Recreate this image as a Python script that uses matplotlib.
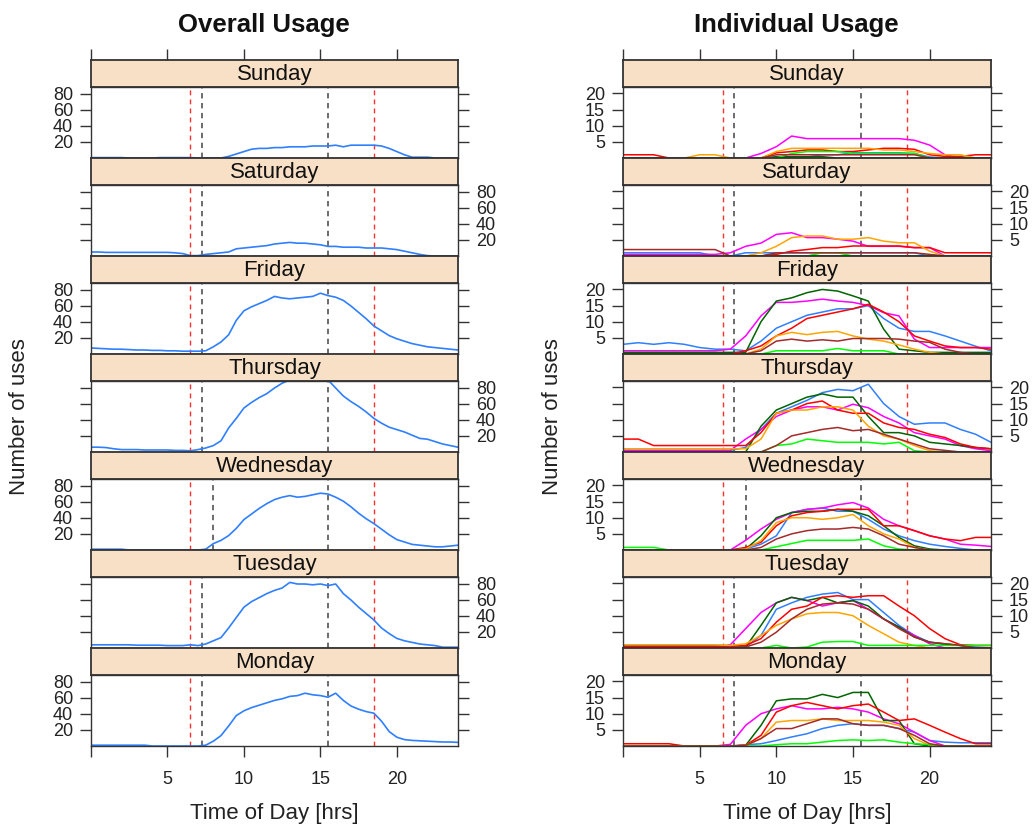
import matplotlib.pyplot as plt

plt.rcParams['font.family'] = ['Liberation Sans', 'DejaVu Sans']

# --- dane ---
days = ["Sunday", "Saturday", "Friday", "Thursday", "Wednesday", "Tuesday", "Monday"]
half_hours = [h / 2 for h in range(49)]
hours = list(range(25))

# overall usage, co pol godziny (0 .. 24)
overall_sunday = [0.5, 0.5, 0.5, 0.5, 0.5, 0, 0, 0, 0, 0.5, 0.5, 0.5, 0.5, 0.5, 0, 0, 0, 0,
                  2, 5, 8, 11, 12, 12, 13, 13, 14, 14, 14, 15, 15, 15, 16, 14, 16, 16, 16, 16,
                  15, 12, 8, 4, 1, 1, 1, 0, 0, 0, 0]
overall_saturday = [5, 5, 4.5, 4.5, 4.5, 4.5, 4.5, 4.5, 4.5, 4.5, 4.5, 4, 3, 0.5, 0.5, 2, 3, 4,
                    5, 9, 10, 11, 12, 13, 15, 16, 17, 16, 16, 15, 14, 12, 12, 11, 11, 11, 10, 10,
                    10, 9, 8, 6, 4, 2, 0.5, 0, 0, 0, 0]
overall_friday = [7.5, 7, 6.5, 6, 6, 5.5, 5, 5, 4.5, 4.5, 4, 4, 3.5, 3.5, 3.5, 4, 9, 15,
                  24, 42, 54, 59, 63, 67, 72, 70, 69, 70, 71, 72, 76, 73, 71, 67, 60, 52, 44, 35,
                  29, 23, 19, 16, 13, 11, 9, 8, 7, 6, 5]
overall_thursday = [6, 6, 5.5, 4, 3, 3, 3, 2.5, 2.5, 2.5, 2.5, 2, 2, 1.5, 3, 5, 8, 14,
                    30, 42, 55, 62, 68, 73, 80, 86, 90, 91, 90, 90, 89, 90, 80, 70, 63, 57, 50, 42,
                    36, 31, 28, 25, 21, 17, 16, 13, 10, 8, 6]
overall_wednesday = [1, 1, 1, 1, 1, 0, 0, 0, 0, 0, 0, 0, 0, 0, 0, 1, 8, 12,
                     18, 27, 38, 45, 52, 58, 63, 66, 68, 66, 67, 69, 71, 70, 66, 61, 54, 46, 39, 33,
                     26, 19, 13, 10, 7, 6, 5, 4, 4, 5, 6]
overall_tuesday = [4, 4, 4, 4, 4, 4, 3.5, 3.5, 3.5, 3.5, 3, 3, 3, 4, 3, 5, 9, 13,
                   25, 38, 51, 58, 63, 68, 72, 75, 82, 80, 80, 79, 80, 78, 80, 68, 60, 51, 43, 35,
                   25, 18, 12, 9, 7, 5, 4, 3, 1, 1, 1]
overall_monday = [1, 1, 1, 1, 1, 1, 1, 1, 0, 0, 0, 0, 0, 0, 0, 1, 6, 13,
                  25, 38, 44, 48, 51, 54, 57, 59, 62, 63, 66, 64, 63, 61, 66, 57, 50, 46, 43, 41,
                  31, 18, 11, 8, 7, 6.5, 6, 5.5, 5, 5, 4.5]

# individual usage, co godzine (0 .. 24)
# kolejnosc: niebieski, magenta, ciemnozielony, czerwony, pomaranczowy, zielony, brazowy
indiv_sunday = [
    [0, 0, 0, 0, 0, 0, 0, 0, 0, 0, 0, 0, 0.3, 1, 1, 1.6, 1.6, 1.6, 1.6, 1.4, 0.3, 0, 0, 0, 0],
    [0, 0, 0, 0, 0, 0, 0, 0, 0, 1.4, 3.5, 6.8, 6, 6, 6, 6, 6, 6, 6, 5.5, 4, 1, 0, 0, 0],
    [0, 0, 0, 0, 0, 0, 0, 0, 0, 0, 0.4, 0.4, 0.4, 0.4, 0, 0, 0, 0, 0, 0, 0, 0, 0, 0, 0],
    [1, 1, 1, 0, 0, 0, 0, 0, 0, 0, 1.6, 2, 2.5, 2.5, 2, 2, 2.5, 3, 3, 2.7, 1, 0.5, 0.5, 1, 1],
    [0, 0, 0, 0, 0, 1, 1, 0, 0, 0, 2, 3, 3, 3, 3, 3, 3, 2.5, 2.5, 2, 1.4, 1, 1, 0, 0],
    [0, 0, 0, 0, 0, 0, 0, 0, 0, 0, 0, 1.4, 2, 2, 2, 1.4, 1.4, 1.4, 1.4, 1.4, 0, 0, 0, 0, 0],
    [0, 0, 0, 0, 0, 0, 0, 0, 0, 0, 1, 1, 1, 1, 1, 1, 1, 1, 1, 1, 0, 0, 0, 0, 0],
]
indiv_saturday = [
    [1, 1, 1, 1, 1, 1, 0, 0, 1, 1, 1, 1, 1, 1, 1, 1, 1, 1, 1, 1, 0, 0, 0, 0, 0],
    [0.5, 0.5, 0.5, 0.5, 0.5, 0.5, 0.5, 1, 3, 4, 6.7, 7.2, 5.7, 5.7, 5.2, 4.6, 3, 3, 3, 2.6, 2.6, 0, 0, 0, 0],
    [0, 0, 0, 0, 0, 0, 0, 0, 0, 0, 0, 0, 0, 0, 0, 0, 0, 0, 0, 0, 0, 0, 0, 0, 0],
    [0, 0, 0, 0, 0, 0, 0, 0, 0, 0, 0.5, 1.5, 2, 2.6, 2.6, 3.1, 3.1, 3.1, 3.1, 2.6, 2.6, 1, 1, 1, 1],
    [0, 0, 0, 0, 0, 0, 0, 0, 0, 1, 3, 5.7, 6.2, 6.2, 5.2, 5.2, 5.7, 4.6, 4.1, 4.1, 1.5, 0, 0, 0, 0],
    [0, 0, 0, 0, 0, 0, 0, 0, 0, 0, 0, 0, 0, 1, 1, 0, 0, 0, 0, 0, 0, 0, 0, 0, 0],
    [2, 2, 2, 2, 2, 2, 2, 0, 0, 0, 1, 1, 1, 1, 1, 1, 1, 1, 1, 1, 0.5, 0, 0, 0, 0],
]
indiv_friday = [
    [3, 3.5, 3, 3.5, 3, 2, 1.5, 1.5, 1, 4, 8, 10, 12, 13, 14, 14, 15, 11, 8, 7, 7, 5.6, 4, 2.4, 1],
    [1, 1, 1, 1, 1, 1, 1, 1.5, 5.6, 11.8, 16, 16, 16.4, 17, 16.4, 16, 15, 12.8, 11.8, 4.6, 2, 2, 2, 2, 2],
    [0.5, 0.5, 0.5, 0.5, 0.5, 0.5, 0.5, 0.5, 0.5, 10, 16.4, 17.4, 19, 20, 19.5, 18, 16.4, 7.7, 1.5, 1, 0.5, 0.5, 0.5, 0.5, 0.5],
    [0, 0, 0, 0, 0, 0, 0, 0, 1, 2.5, 5.6, 8, 11, 12, 13, 14, 15.4, 13, 10, 5.6, 4, 2.5, 2, 2, 1.5],
    [0, 0, 0, 0, 0, 0, 0, 0, 0, 1.5, 5.6, 6.7, 6, 6.7, 7, 5.6, 4.6, 4, 2.8, 1.5, 0.5, 0, 0, 0, 0],
    [0, 0, 0, 0, 0, 0, 0, 0, 0, 0, 1, 1, 1, 1, 1.7, 1, 1, 1, 0, 0, 0, 0, 0, 0, 0],
    [0, 0, 0, 0, 0, 0, 0, 0, 0, 1, 4, 4.6, 4, 4.4, 4, 4.8, 4.8, 4.8, 4.6, 4, 3.6, 1.5, 0.5, 0, 0],
]
indiv_thursday = [
    [0.5, 0.5, 0.5, 0.5, 0.5, 0.5, 0.5, 0.5, 1.4, 7, 12, 14, 16, 18.4, 19.4, 19, 21, 15, 11, 8.6, 9, 9, 7, 5.5, 3],
    [0.5, 0.5, 0.5, 0.5, 0.5, 0.5, 0.5, 0.5, 4, 7, 11, 13, 14, 14, 13, 14.8, 13.7, 11, 9, 6, 5, 4, 2, 1, 0.4],
    [0, 0, 0, 0, 0, 0, 0, 0, 0, 8, 13, 15, 17, 18, 17, 17, 11, 6, 6, 5, 3, 2.5, 2, 1.4, 1],
    [4, 4, 2, 2, 2, 2, 2, 2, 2, 6, 12, 13, 15, 15.8, 13, 12, 12, 9, 7.6, 7, 5.5, 4.5, 2.5, 1.4, 1],
    [1, 1, 1, 1, 1, 1, 1, 1, 1, 4, 12, 13, 13, 14, 14, 13, 8, 5, 4, 2, 0.4, 0, 0, 0, 0],
    [0, 0, 0, 0, 0, 0, 0, 0, 0, 0, 2, 2.5, 4, 3.5, 3, 3, 3, 2.5, 3, 0.4, 0, 0, 0, 0, 0],
    [0, 0, 0, 0, 0, 0, 0, 0, 0, 0, 2, 5, 6, 7, 7.6, 6.6, 7, 5.5, 4, 2.5, 1, 0.5, 0, 0, 0],
]
indiv_wednesday = [
    [0, 0, 0, 0, 0, 0, 0, 0, 0.3, 1.8, 4.4, 11.6, 12.6, 13, 12, 12, 9.5, 6.5, 4.4, 2.9, 1.8, 1.1, 0.5, 0, 0],
    [0, 0, 0, 0, 0, 0, 0, 0, 3, 6.5, 9.5, 11.6, 12.6, 13, 14, 14.7, 13, 9.5, 7.5, 6, 4.4, 3.4, 1.8, 1.5, 1.1],
    [0, 0, 0, 0, 0, 0, 0, 0, 0.3, 4.4, 10, 11.6, 12, 12, 12.6, 12, 10.6, 7.5, 3.9, 1.3, 0.3, 0, 0, 0, 0],
    [0, 0, 0, 0, 0, 0, 0, 0, 0.8, 2.4, 7.5, 10.6, 11.6, 12, 12.6, 12.6, 12.6, 7.5, 7.5, 6, 4.4, 3.4, 2.9, 3.9, 3.9],
    [0, 0, 0, 0, 0, 0, 0, 0, 0.3, 2.9, 8.5, 10, 10, 9.5, 10, 11, 7.5, 5, 3.4, 0.8, 0, 0, 0, 0, 0],
    [0.8, 0.8, 0.8, 0, 0, 0, 0, 0, 0, 0, 1, 2, 3, 3, 3, 3, 3.4, 1.3, 0.3, 0, 0, 0, 0, 0, 0],
    [0, 0, 0, 0, 0, 0, 0, 0, 0, 0.8, 3.4, 5, 6, 6.5, 6.5, 7, 6.5, 4.4, 1.8, 0.8, 0, 0, 0, 0, 0],
]
indiv_tuesday = [
    [0.8, 0.8, 0.8, 0.8, 0.8, 0.8, 0.8, 0.8, 0.3, 3.9, 12, 14, 15.7, 16.7, 17.2, 15, 15, 11, 7, 3.9, 1.8, 1, 0.8, 0.3, 0],
    [0, 0, 0, 0, 0, 0, 0, 1, 6, 11, 14, 15.7, 14.7, 13, 14, 14.7, 12, 9, 6.5, 3.9, 1.3, 0, 0, 0, 0],
    [0, 0, 0, 0, 0, 0, 0, 0, 0.3, 7, 14, 15.7, 14.7, 15.7, 14, 14.7, 13, 9, 6.5, 3.4, 1.8, 1.3, 0.8, 0, 0],
    [0.5, 0.5, 0.5, 0.5, 0.5, 0.5, 0.5, 0.5, 0.8, 2.9, 8, 12, 13, 15.7, 16.2, 15.7, 16.2, 16.2, 13, 10, 6, 2.9, 1, 0.8, 0.8],
    [1, 1, 1, 1, 1, 1, 1, 0.8, 1.3, 3.9, 7, 9, 10.6, 11, 11, 10, 7, 4.4, 1.8, 0.8, 0, 0, 0, 0, 0],
    [0, 0, 0, 0, 0, 0, 0, 0, 0, 0, 0.8, 0, 0.3, 1.8, 2, 2, 0.8, 0.8, 0.8, 0.8, 0.8, 0.8, 0.8, 0.8, 0.8],
    [0, 0, 0, 0, 0, 0, 0, 0, 0.3, 1.8, 4.9, 9, 12, 13.6, 14, 13.6, 12, 9, 6, 3.4, 1.8, 1.3, 0.8, 0, 0],
]
indiv_monday = [
    [0, 0, 0, 0, 0, 0, 0, 0, 0.4, 0.7, 1.7, 2.8, 3.8, 5.4, 6.4, 6.9, 6.4, 6.4, 5.4, 4.3, 1.7, 1.2, 1, 1, 1],
    [0, 0, 0, 0, 0, 0, 0, 0.5, 6.4, 10, 11.5, 12.5, 11.5, 11.5, 12, 11.5, 10.5, 8.4, 6.9, 4.3, 1.7, 0, 0, 0, 0],
    [0, 0, 0, 0, 0, 0, 0, 0, 0.2, 6.4, 14, 14.6, 14.6, 16, 15, 16.6, 16.6, 7.9, 7.9, 0.7, 0, 0, 0, 0, 0],
    [0.7, 0.7, 0.7, 0.7, 0, 0, 0, 0, 0.2, 3.3, 10.5, 12.5, 13.5, 12.5, 11.5, 12.5, 13, 10.5, 7.9, 8.4, 6.4, 4.3, 2.3, 0.7, 0.7],
    [0, 0, 0, 0, 0, 0, 0, 0, 0.2, 2.3, 7.4, 7.9, 7.9, 8.4, 7.9, 7.9, 7.9, 7.4, 6.4, 2.3, 0.2, 0, 0, 0, 0],
    [0, 0, 0, 0, 0, 0, 0, 0, 0, 0, 0.4, 0.7, 0.7, 1.2, 1.7, 1.9, 1.7, 1.9, 1.2, 0.7, 0.4, 0, 0, 0, 0],
    [0, 0, 0, 0, 0, 0, 0, 0, 0.2, 2.3, 5.4, 5.4, 6.9, 8.4, 8.4, 6.9, 6.4, 6.4, 5.4, 3.3, 0.7, 0, 0, 0, 0],
]

overall = [overall_sunday, overall_saturday, overall_friday, overall_thursday,
           overall_wednesday, overall_tuesday, overall_monday]
indiv = [indiv_sunday, indiv_saturday, indiv_friday, indiv_thursday,
         indiv_wednesday, indiv_tuesday, indiv_monday]

# linie pionowe: czerwone (6.5, 18.5), czarne (przyjscie / wyjscie)
red_lines = [6.5, 18.5]
black_lines = [7.25, 15.5]
black_lines_wed = [8.0, 15.5]

# --- styl ---
series_cols = ["#2f7fff", "#ff00ff", "#006400", "#ff0000", "#ffa500", "#00ff00", "#a52a2a"]
strip_col = "#f8e0c6"
frame_col = "#333333"

W, H = 1035, 825
fig = plt.figure(figsize=(W / 100, H / 100), dpi=100)


def box(x0, y0, x1, y1):
    """prostokat w pikselach (od gory) -> wspolrzedne figury"""
    return [x0 / W, 1 - y1 / H, (x1 - x0) / W, (y1 - y0) / H]


top0, strip_h, row_h = 60, 27, 98
columns = [
    # x0, x1, ylim, yticks, title, title_x
    (91, 458, 88.75, [20, 40, 60, 80], "Overall Usage", 264),
    (623, 991, 22.0, [5, 10, 15, 20], "Individual Usage", 796),
]

for col, (x0, x1, ymax, yticks, title, tx) in enumerate(columns):
    fig.text(tx / W, 1 - 25 / H, title, ha='center', va='center',
             fontsize=18.5, fontweight='bold', color='#111111')

    for i, day in enumerate(days):
        ytop = top0 + i * row_h

        # pasek z nazwa dnia
        strip = fig.add_axes(box(x0, ytop, x1, ytop + strip_h))
        strip.set_facecolor(strip_col)
        strip.set_xlim(0, 24)
        strip.set_yticks([])
        strip.text(0.5, 0.45, day, transform=strip.transAxes, ha='center', va='center',
                   fontsize=16, color='#111111')
        for s in strip.spines.values():
            s.set_color(frame_col)
            s.set_linewidth(1.3)
        if i == 0:
            strip.xaxis.set_ticks_position('top')
            strip.set_xticks([0, 5, 10, 15, 20])
            strip.tick_params(axis='x', direction='out', length=8, width=1,
                              color=frame_col, labeltop=False)
        else:
            strip.set_xticks([])

        # panel z danymi
        ax = fig.add_axes(box(x0, ytop + strip_h, x1, ytop + row_h))
        ax.set_xlim(0, 24)
        ax.set_ylim(0, ymax)
        for s in ax.spines.values():
            s.set_color(frame_col)
            s.set_linewidth(1.0)

        bl = black_lines_wed if day == "Wednesday" else black_lines
        for xv in red_lines:
            ax.axvline(xv, color='#ff3030', lw=1.0, linestyle=(0, (3.5, 3)))
        for xv in bl:
            ax.axvline(xv, color='#444444', lw=1.1, linestyle=(0, (3.5, 3)))

        if col == 0:
            ax.plot(half_hours, overall[i], color=series_cols[0], lw=1.2)
        else:
            for vals, c in zip(indiv[i], series_cols):
                ax.plot(hours, vals, color=c, lw=1.1)

        ax.set_yticks(yticks)
        ax.yaxis.set_ticks_position('both')
        ax.tick_params(axis='y', direction='out', length=8, width=1, color=frame_col,
                       labelsize=13, labelcolor='#222222', pad=5,
                       labelleft=(i % 2 == 0), labelright=(i % 2 == 1))

        if i == len(days) - 1:
            ax.set_xticks([0, 5, 10, 15, 20])
            ax.set_xticklabels(['', '5', '10', '15', '20'])
            ax.tick_params(axis='x', direction='out', length=8, width=1, color=frame_col,
                           labelsize=13, labelcolor='#222222', pad=10)
        else:
            ax.set_xticks([])

    # opisy osi
    fig.text((x0 + x1) / 2 / W, 1 - 813 / H, "Time of Day [hrs]", ha='center', va='center',
             fontsize=16, color='#222222')
    fig.text((x0 - 71) / W, 1 - 417 / H, "Number of uses", ha='center', va='center',
             rotation=90, fontsize=16, color='#222222')

fig.savefig("out.png", dpi=100)
